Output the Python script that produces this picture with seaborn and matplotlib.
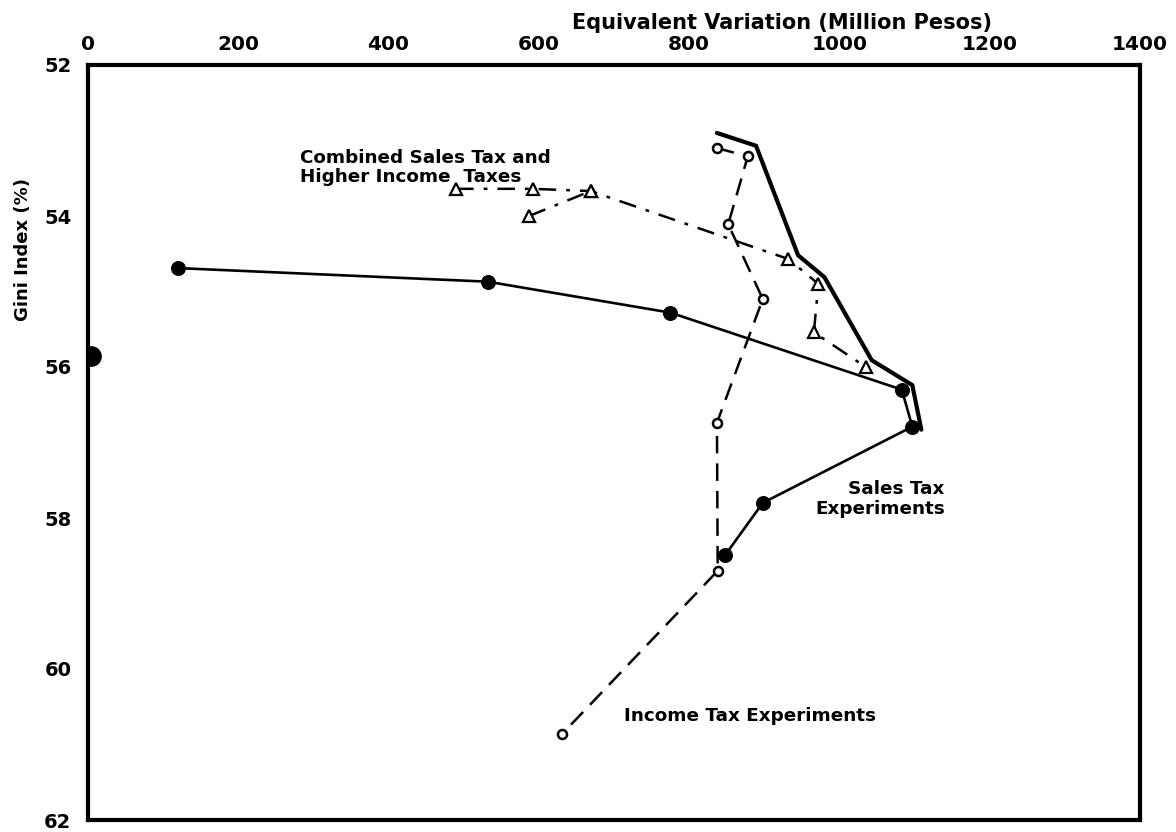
import matplotlib
matplotlib.use("Agg")
import matplotlib.pyplot as plt
import seaborn as sns
import pandas as pd

# Equivalent variation (million pesos) and Gini index (%) for each experiment
sales_ev = [120, 532, 775, 1083, 1097, 898, 848]
sales_gini = [54.69, 54.87, 55.28, 56.30, 56.79, 57.80, 58.49]

income_ev = [837, 878, 852, 898, 837, 838, 631]
income_gini = [53.10, 53.21, 54.11, 55.10, 56.74, 58.70, 60.86]

combined_ev = [490, 592, 669, 932, 972, 966, 1035]
combined_gini = [53.64, 53.64, 53.67, 54.57, 54.90, 55.54, 56.00]
combined_branch_ev = [587, 669]
combined_branch_gini = [54.00, 53.67]

frontier_ev = [837, 889, 945, 980, 1043, 1097, 1109]
frontier_gini = [52.90, 53.07, 54.52, 54.81, 55.91, 56.24, 56.83]

base_ev = [4]
base_gini = [55.85]

x_ticks = [0, 200, 400, 600, 800, 1000, 1200, 1400]
y_ticks = [52, 54, 56, 58, 60, 62]

sns.set_theme(style="white")
plt.rcParams["font.family"] = ["DejaVu Sans"]
plt.rcParams["font.weight"] = "bold"
plt.rcParams["text.color"] = "black"
plt.rcParams["axes.labelcolor"] = "black"

fig = plt.figure(figsize=(11.76, 8.32), dpi=100)
ax = fig.add_axes([88 / 1176, 1 - 820 / 832, (1140 - 88) / 1176, (820 - 65) / 832])

frontier = pd.DataFrame({"ev": frontier_ev, "gini": frontier_gini})
sales = pd.DataFrame({"ev": sales_ev, "gini": sales_gini})
income = pd.DataFrame({"ev": income_ev, "gini": income_gini})
combined = pd.DataFrame({"ev": combined_ev, "gini": combined_gini})
branch = pd.DataFrame({"ev": combined_branch_ev, "gini": combined_branch_gini})
base = pd.DataFrame({"ev": base_ev, "gini": base_gini})

sns.lineplot(data=frontier, x="ev", y="gini", sort=False, estimator=None,
             color="black", linewidth=3.0, ax=ax)
sns.lineplot(data=sales, x="ev", y="gini", sort=False, estimator=None,
             color="black", linewidth=1.9, marker="o", markersize=10,
             markerfacecolor="black", markeredgecolor="black", ax=ax)
sns.lineplot(data=income, x="ev", y="gini", sort=False, estimator=None,
             color="black", linewidth=1.8, linestyle=(0, (7, 4)),
             marker="o", markersize=6.5, markerfacecolor="white",
             markeredgecolor="black", markeredgewidth=1.8, ax=ax)
for df in (combined, branch):
    sns.lineplot(data=df, x="ev", y="gini", sort=False, estimator=None,
                 color="black", linewidth=1.8, linestyle=(0, (7, 4, 1.5, 4)),
                 marker="^", markersize=9, markerfacecolor="white",
                 markeredgecolor="black", markeredgewidth=1.6, ax=ax)
sns.scatterplot(data=base, x="ev", y="gini", s=190, color="black",
                edgecolor="black", ax=ax, clip_on=True, zorder=2)

ax.set_xlim(0, 1400)
ax.set_ylim(62, 52)
ax.set_xticks(x_ticks)
ax.set_yticks(y_ticks)
ax.xaxis.tick_top()
ax.xaxis.set_label_position("top")
ax.tick_params(axis="x", length=0, labelsize=14.5, colors="black", pad=8)
ax.tick_params(axis="y", length=0, labelsize=14, colors="black", pad=12)
for lbl in ax.get_xticklabels() + ax.get_yticklabels():
    lbl.set_fontweight("bold")
ax.set_xlabel("Equivalent Variation (Million Pesos)", fontsize=15,
              fontweight="bold")
ax.set_ylabel("Gini Index (%)", fontsize=13, fontweight="bold")
ax.xaxis.set_label_coords(0.66, 1.048)
ax.yaxis.set_label_coords(-0.053, 0.755)

for side in ("left", "right", "top", "bottom"):
    ax.spines[side].set_visible(True)
    ax.spines[side].set_color("black")
    ax.spines[side].set_linewidth(3.0)
ax.grid(False)

ax.text(282, 53.36, "Combined Sales Tax and\nHigher Income  Taxes",
        fontsize=13.2, fontweight="bold", ha="left", va="center",
        linespacing=1.1)
ax.text(1140, 57.75, "Sales Tax\nExperiments", fontsize=13.2,
        fontweight="bold", ha="right", va="center", linespacing=1.1,
        multialignment="right")
ax.text(713, 60.62, "Income Tax Experiments", fontsize=13.2,
        fontweight="bold", ha="left", va="center")

fig.savefig("out.png", dpi=100, facecolor="white")
